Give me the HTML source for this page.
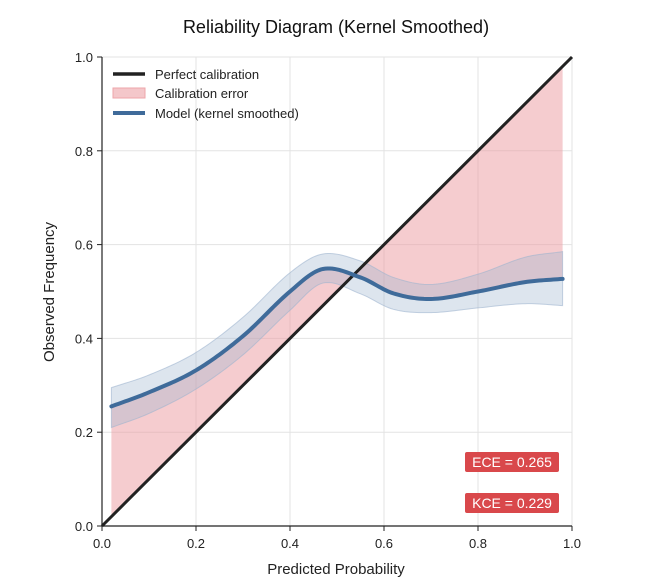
<!DOCTYPE html>
<html><head><meta charset="utf-8"><style>
body{margin:0;background:#fff;font-family:"Liberation Sans",sans-serif;}
svg text{font-family:"Liberation Sans",sans-serif;}
</style></head><body>
<svg id="c" width="651" height="581" viewBox="0 0 651 581" xmlns="http://www.w3.org/2000/svg">
<text x="336" y="33" font-size="18" text-anchor="middle" fill="#111">Reliability Diagram (Kernel Smoothed)</text>
<g id="grid"></g><g id="marks"></g><g id="axes"></g>
<text x="336" y="574" font-size="15" text-anchor="middle" fill="#222">Predicted Probability</text>
<text transform="translate(54,292) rotate(-90)" font-size="15" text-anchor="middle" fill="#222">Observed Frequency</text>
<g>
<line x1="113" y1="74" x2="145" y2="74" stroke="#222" stroke-width="3.5"/>
<text x="155" y="79" font-size="13" fill="#222">Perfect calibration</text>
<rect x="113" y="88" width="32" height="10" fill="#f4c7ca" stroke="#eea5aa"/>
<text x="155" y="98" font-size="13" fill="#222">Calibration error</text>
<line x1="113" y1="113" x2="145" y2="113" stroke="#3f6b9a" stroke-width="4"/>
<text x="155" y="118" font-size="13" fill="#222">Model (kernel smoothed)</text>
</g>
<g><rect x="465" y="452" width="94" height="20" rx="2" fill="#d9484b"/><text x="512" y="467" font-size="14" fill="#fff" text-anchor="middle">ECE = 0.265</text></g>
<g><rect x="465" y="493" width="94" height="20" rx="2" fill="#d9484b"/><text x="512" y="508" font-size="14" fill="#fff" text-anchor="middle">KCE = 0.229</text></g>
</svg>
<script>
const xs=[0.02,0.1,0.2,0.3,0.4,0.47,0.55,0.62,0.7,0.8,0.9,0.98];
const model=[0.255,0.285,0.332,0.405,0.5,0.548,0.53,0.496,0.484,0.5,0.52,0.527];
const upper=[0.295,0.322,0.37,0.445,0.54,0.58,0.565,0.53,0.515,0.537,0.573,0.585];
const lower=[0.21,0.24,0.292,0.365,0.46,0.518,0.495,0.462,0.455,0.465,0.474,0.47];
const ticks=[0,0.2,0.4,0.6,0.8,1.0];
const tickLabels=["0.0","0.2","0.4","0.6","0.8","1.0"];
const X=v=>102+v*470, Y=v=>526-v*469;
const NS="http://www.w3.org/2000/svg";
function mk(tag,attrs,parent){const e=document.createElementNS(NS,tag);for(const k in attrs)e.setAttribute(k,attrs[k]);parent.appendChild(e);return e;}
function interp(arr,t){
 let i=0;while(i<xs.length-2&&t>xs[i+1])i++;
 const h=xs[i+1]-xs[i];
 const m=j=>{const a=Math.max(j-1,0),b=Math.min(j+1,arr.length-1);return (arr[b]-arr[a])/(xs[b]-xs[a]);};
 const u=(t-xs[i])/h,u2=u*u,u3=u2*u;
 return (2*u3-3*u2+1)*arr[i]+(u3-2*u2+u)*h*m(i)+(-2*u3+3*u2)*arr[i+1]+(u3-u2)*h*m(i+1);}
const ts=[];for(let t=xs[0];t<=xs[xs.length-1]+1e-9;t+=0.005)ts.push(t);
const grid=document.getElementById('grid'),marks=document.getElementById('marks'),axes=document.getElementById('axes');
ticks.forEach((t,i)=>{
 const gx=mk('line',{x1:X(t),y1:Y(0),x2:X(t),y2:Y(1),stroke:'#e3e3e3','stroke-width':1},grid);
 
 
 const gy=mk('line',{x1:X(0),y1:Y(t),x2:X(1),y2:Y(t),stroke:'#e3e3e3','stroke-width':1},grid);
 
 
 mk('line',{x1:X(t),y1:Y(0),x2:X(t),y2:Y(0)+5,stroke:'#222'},axes);
 mk('line',{x1:X(0)-5,y1:Y(t),x2:X(0),y2:Y(t),stroke:'#222'},axes);
 const tx=mk('text',{x:X(t),y:Y(0)+22,'font-size':13,'text-anchor':'middle',fill:'#222'},axes);tx.textContent=tickLabels[i];
 
 
 const ty=mk('text',{x:X(0)-9,y:Y(t)+5,'font-size':13,'text-anchor':'end',fill:'#222'},axes);ty.textContent=tickLabels[i];
 
 
});
let d='M'+ts.map(t=>X(t)+','+Y(interp(model,t))).join('L')+'L'+ts.slice().reverse().map(t=>X(t)+','+Y(t)).join('L')+'Z';
const err=mk('path',{d:d,fill:'#eb9aa0','fill-opacity':0.5,stroke:'none'},marks);


d='M'+ts.map(t=>X(t)+','+Y(interp(upper,t))).join('L')+'L'+ts.slice().reverse().map(t=>X(t)+','+Y(interp(lower,t))).join('L')+'Z';
const band=mk('path',{d:d,fill:'#9fb4cf','fill-opacity':0.35,stroke:'#9fb4cf','stroke-opacity':0.6},marks);


const diag=mk('line',{x1:X(0),y1:Y(0),x2:X(1),y2:Y(1),stroke:'#222','stroke-width':3},marks);


const ml=mk('path',{d:'M'+ts.map(t=>X(t)+','+Y(interp(model,t))).join('L'),fill:'none',stroke:'#3f6b9a','stroke-width':4,'stroke-linecap':'round'},marks);


mk('line',{x1:X(0),y1:Y(0),x2:X(0),y2:Y(1),stroke:'#222','stroke-width':1.2},axes);
mk('line',{x1:X(0),y1:Y(0),x2:X(1),y2:Y(0),stroke:'#222','stroke-width':1.2},axes);
</script>
</body></html>
